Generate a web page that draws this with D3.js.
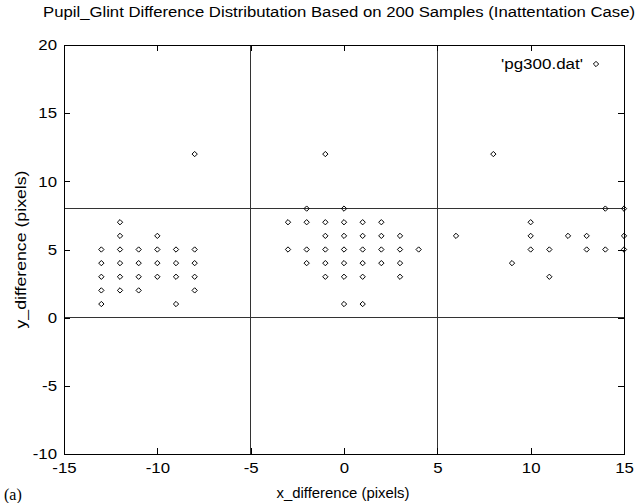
<!DOCTYPE html>
<html>
<head>
<meta charset="utf-8">
<script src="https://cdn.jsdelivr.net/npm/d3@7"></script>
<style>
  html, body { margin: 0; padding: 0; background: #fff; }
  svg { display: block; font-family: "Liberation Sans", Arial, Helvetica, sans-serif; }
</style>
</head>
<body>
<script>
// ---- data ----
const titleText = "Pupil_Glint Difference Distributation Based on 200 Samples (Inattentation Case)";
const xLabel = "x_difference (pixels)";
const yLabel = "y_difference (pixels)";
const legendLabel = "'pg300.dat'";
const xTicks = [-15, -10, -5, 0, 5, 10, 15];
const yTicks = [-10, -5, 0, 5, 10, 15, 20];
const xRefLines = [-5, 5];
const yRefLines = [0, 8];

// sample points (x, y) grouped by cluster
const clusterLeftX  = [-13,-13,-13,-13,-13, -12,-12,-12,-12,-12,-12, -11,-11,-11,-11, -10,-10,-10,-10, -9,-9,-9,-9, -8,-8,-8,-8,-8];
const clusterLeftY  = [  1,  2,  3,  4,  5,   2,  3,  4,  5,  6,  7,   2,  3,  4,  5,   3,  4,  5,  6,  1, 3, 4, 5,  2, 3, 4, 5,12];
const clusterMidX   = [-1, -2, 0, -3,-2,-1,0,1,2, -1,0,1,2,3, -3,-2,-1,0,1,2,3,4, -2,-1,0,1,2,3, -1,0,1,3, 0,1];
const clusterMidY   = [12,  8, 8,  7, 7, 7,7,7,7,  6,6,6,6,6,  5, 5, 5,5,5,5,5,5,  4, 4,4,4,4,4,  3,3,3,3, 1,1];
const clusterRightX = [8, 14,15, 10, 6,10,12,13,15, 10,11,13,14,15, 9, 11];
const clusterRightY = [12, 8, 8,  7, 6, 6, 6, 6, 6,  5, 5, 5, 5, 5, 4,  3];

const points = [];
[[clusterLeftX, clusterLeftY], [clusterMidX, clusterMidY], [clusterRightX, clusterRightY]]
  .forEach(([xs, ys]) => xs.forEach((x, i) => points.push({x, y: ys[i]})));

// ---- layout ----
const W = 644, H = 503;
const m = {left: 64, right: 20, top: 45, bottom: 49};
const x = d3.scaleLinear().domain([-15, 15]).range([m.left, W - m.right]);
const y = d3.scaleLinear().domain([-10, 20]).range([H - m.bottom, m.top]);

const svg = d3.select("body").append("svg").attr("width", W).attr("height", H);

// reference lines
svg.append("g").selectAll("line.vx").data(xRefLines).join("line")
  .attr("x1", d => x(d)).attr("x2", d => x(d))
  .attr("y1", y(-10)).attr("y2", y(20))
  .attr("stroke", "#333").attr("stroke-width", 1).attr("shape-rendering", "crispEdges");
svg.append("g").selectAll("line.hy").data(yRefLines).join("line")
  .attr("x1", x(-15)).attr("x2", x(15))
  .attr("y1", d => y(d)).attr("y2", d => y(d))
  .attr("stroke", "#333").attr("stroke-width", 1).attr("shape-rendering", "crispEdges");

// axes (inward ticks)
const tickLen = 6;
const fontSize = 15;
const fmt = d => String(d);
const axB = svg.append("g").attr("transform", `translate(0,${y(-10)})`)
  .call(d3.axisBottom(x).tickValues(xTicks).tickSizeInner(-tickLen).tickSizeOuter(0).tickPadding(tickLen + 4).tickFormat(fmt));
const axT = svg.append("g").attr("transform", `translate(0,${y(20)})`)
  .call(d3.axisTop(x).tickValues(xTicks).tickSizeInner(-tickLen).tickSizeOuter(0).tickFormat(""));
const axL = svg.append("g").attr("transform", `translate(${x(-15)},0)`)
  .call(d3.axisLeft(y).tickValues(yTicks).tickSizeInner(-tickLen).tickSizeOuter(0).tickPadding(tickLen + 1).tickFormat(fmt));
const axR = svg.append("g").attr("transform", `translate(${x(15)},0)`)
  .call(d3.axisRight(y).tickValues(yTicks).tickSizeInner(-tickLen).tickSizeOuter(0).tickFormat(""));
[axB, axT, axL, axR].forEach(g => {
  g.select(".domain").remove();
  g.selectAll("line").attr("stroke", "#000").attr("shape-rendering", "crispEdges");
  g.selectAll("text").attr("font-size", fontSize).attr("fill", "#000")
    .attr("font-family", "'Liberation Sans', Arial, sans-serif");
});
axB.selectAll("text").attr("dy", "0.62em");
// reference glyphs are a little wider than Arial
[axB, axL].forEach(g => g.selectAll("text").each(function () {
  const t = d3.select(this);
  t.attr("textLength", this.getComputedTextLength() * 1.12).attr("lengthAdjust", "spacingAndGlyphs");
}));

// frame
svg.append("rect")
  .attr("x", x(-15)).attr("y", y(20))
  .attr("width", x(15) - x(-15)).attr("height", y(-10) - y(20))
  .attr("fill", "none").attr("stroke", "#000").attr("stroke-width", 1)
  .attr("shape-rendering", "crispEdges");

// points
const diamond = d3.symbol().type(d3.symbolDiamond2).size(18);
svg.append("g").selectAll("path").data(points).join("path")
  .attr("transform", d => `translate(${x(d.x)},${y(d.y)})`)
  .attr("d", diamond)
  .attr("fill", "none").attr("stroke", "#000").attr("stroke-width", 1);

// legend
svg.append("text").attr("x", 583).attr("y", 69).attr("text-anchor", "end")
  .attr("font-size", 14).attr("textLength", 82).attr("lengthAdjust", "spacingAndGlyphs")
  .text(legendLabel);
svg.append("path").attr("transform", "translate(596,64)").attr("d", diamond)
  .attr("fill", "none").attr("stroke", "#000").attr("stroke-width", 1);

// title
svg.append("text").attr("x", 339).attr("y", 17).attr("text-anchor", "middle")
  .attr("font-size", 14).attr("textLength", 592).attr("lengthAdjust", "spacingAndGlyphs")
  .text(titleText);

// axis labels
svg.append("text").attr("x", 343).attr("y", 498).attr("text-anchor", "middle")
  .attr("font-size", 14).attr("textLength", 133).attr("lengthAdjust", "spacingAndGlyphs")
  .text(xLabel);
svg.append("text")
  .attr("transform", `translate(26,${(y(-10) + y(20)) / 2}) rotate(-90)`)
  .attr("text-anchor", "middle").attr("font-size", 14)
  .attr("textLength", 158).attr("lengthAdjust", "spacingAndGlyphs")
  .text(yLabel);

// panel tag
svg.append("text").attr("x", 4).attr("y", 500)
  .attr("font-family", "'Liberation Serif', 'Times New Roman', serif")
  .attr("font-size", 16).text("(a)");
</script>
</body>
</html>
